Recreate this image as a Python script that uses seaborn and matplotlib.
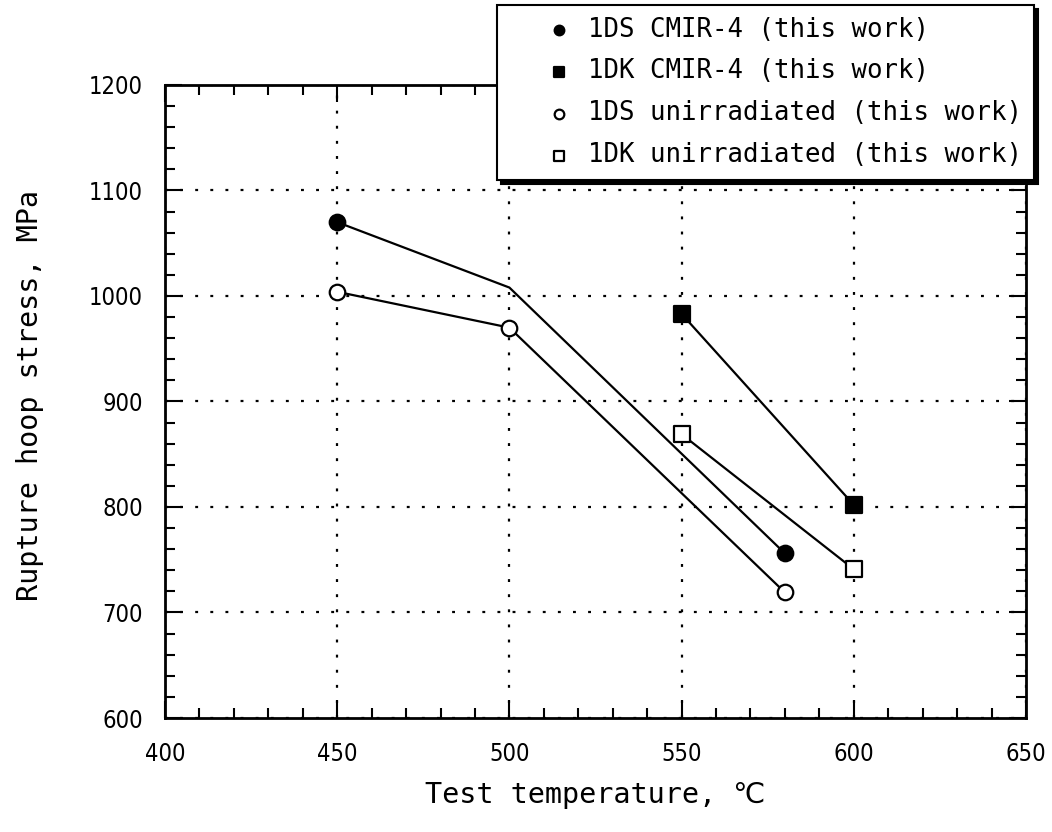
import matplotlib
matplotlib.use("Agg")
import matplotlib.pyplot as plt
from matplotlib.ticker import MultipleLocator
import seaborn as sns
import pandas as pd

# ---- data ----
ds_cmir_temp = [450, 500, 580]
ds_cmir_stress = [1070, 1008, 756]
ds_cmir_marked = [True, False, True]

dk_cmir_temp = [550, 600]
dk_cmir_stress = [983, 802]

ds_unirr_temp = [450, 500, 580]
ds_unirr_stress = [1004, 970, 719]

dk_unirr_temp = [550, 600]
dk_unirr_stress = [869, 741]

labels = ["1DS CMIR-4 (this work)", "1DK CMIR-4 (this work)",
          "1DS unirradiated (this work)", "1DK unirradiated (this work)"]

x_ticks = [400, 450, 500, 550, 600, 650]
y_ticks = [600, 700, 800, 900, 1000, 1100, 1200]

sns.set_theme(style="white")
plt.rcParams['font.family'] = ['DejaVu Sans Mono', 'DejaVu Sans', 'Noto Sans CJK JP']
plt.rcParams['text.color'] = 'black'
plt.rcParams['axes.labelcolor'] = 'black'
plt.rcParams['xtick.color'] = 'black'
plt.rcParams['ytick.color'] = 'black'

fig = plt.figure(figsize=(10.52, 8.32), dpi=100)
ax = fig.add_axes([165 / 1052, 114 / 832, 861 / 1052, 633 / 832])

series = [
    (ds_cmir_temp, ds_cmir_stress, ds_cmir_marked, "o", "black"),
    (dk_cmir_temp, dk_cmir_stress, [True] * len(dk_cmir_temp), "s", "black"),
    (ds_unirr_temp, ds_unirr_stress, [True] * len(ds_unirr_temp), "o", "white"),
    (dk_unirr_temp, dk_unirr_stress, [True] * len(dk_unirr_temp), "s", "white"),
]

handles = []
for (tx, sy, mk, marker, fc), lab in zip(series, labels):
    df = pd.DataFrame({"T": tx, "S": sy, "m": mk})
    sns.lineplot(data=df, x="T", y="S", sort=False, estimator=None,
                 color="black", linewidth=1.6, ax=ax, legend=False, zorder=2)
    dm = df[df["m"]]
    sns.scatterplot(data=dm, x="T", y="S", marker=marker, s=125,
                    facecolor=fc, edgecolor="black", linewidth=1.6,
                    ax=ax, label=lab, zorder=3, legend=False)
    handles.append(ax.collections[-1])

ax.set_xlim(400, 650)
ax.set_ylim(600, 1200)
ax.set_xticks(x_ticks)
ax.set_yticks(y_ticks)
ax.xaxis.set_minor_locator(MultipleLocator(10))
ax.yaxis.set_minor_locator(MultipleLocator(20))

ax.grid(True, which="major", color="black", linestyle=(0, (1.3, 5.5)), linewidth=1.6)
ax.tick_params(which="both", direction="in", top=True, right=True,
               bottom=True, left=True, color="black", width=1.5)
ax.tick_params(which="major", length=12, labelsize=17)
ax.tick_params(axis="x", which="major", pad=17)
ax.tick_params(axis="y", which="major", pad=16)
ax.tick_params(which="minor", length=7)
for lab in ax.get_xticklabels() + ax.get_yticklabels():
    lab.set_family(['DejaVu Sans'])
    lab.set_fontstretch('condensed')
for sp in ax.spines.values():
    sp.set_color("black")
    sp.set_linewidth(2)

ax.set_xlabel("Test temperature, ℃", fontsize=20.5)
ax.set_ylabel("Rupture hoop stress, MPa", fontsize=20.5)
ax.xaxis.set_label_coords(0.5, -0.100)
ax.yaxis.set_label_coords(-0.141, 0.51)

leg = fig.legend(handles, labels, loc="upper left",
                 bbox_to_anchor=(497 / 1052, 1 - 5 / 832),
                 borderaxespad=0, fontsize=18.5, frameon=True, fancybox=False,
                 edgecolor="black", framealpha=1, markerscale=0.62,
                 handlelength=3.9, handletextpad=-0.8, borderpad=0.45,
                 labelspacing=0.62,
                 shadow={"ox": 3, "oy": -3, "facecolor": "black",
                         "edgecolor": "black", "alpha": 1})
leg.get_frame().set_linewidth(1.5)

fig.savefig("out.png", dpi=100, facecolor="white")
